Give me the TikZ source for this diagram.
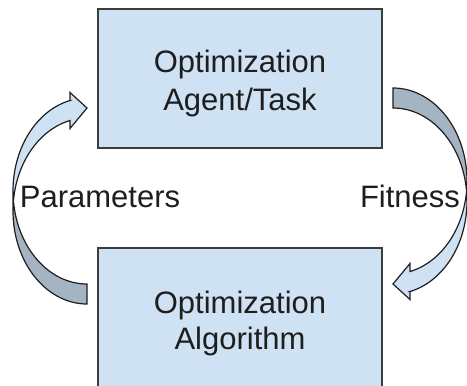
\documentclass[tikz,border=0pt]{standalone}
\usepackage{fontspec}
\setmainfont{Liberation Sans}
\definecolor{boxfill}{HTML}{CFE2F3}
\definecolor{boxline}{HTML}{3C3C3C}
\definecolor{arrowlight}{HTML}{CFE2F3}
\definecolor{arrowdark}{HTML}{A5B4C3}
\definecolor{arrowedge}{HTML}{1E1E1E}
\definecolor{textcol}{HTML}{1E1E1E}

% Curved block arrow in its own frame (x right, y down):
% outer ellipse E1 centred (74,93), inner ellipse E2 centred (74,113),
% both with radii 74 x 93; tail at the top right, head at the lower right.
\newcommand\curvedblockarrow{%
  % whole shape, light face
  \fill[arrowlight] (0,93)
    -- plot[domain=180:103.28,samples=60,variable=\t]({74+74*cos(\t)},{93+93*sin(\t)})
    -- (57,175.51) -- (74,196) -- (57,211.51) -- (57,203.51)
    -- plot[domain=103.28:180,samples=60,variable=\t]({74+74*cos(\t)},{113+93*sin(\t)})
    -- (0,93)
    -- plot[domain=180:270,samples=60,variable=\t]({74+74*cos(\t)},{93+93*sin(\t)})
    -- (74,20)
    -- plot[domain=270:186.17,samples=60,variable=\t]({74+74*cos(\t)},{113+93*sin(\t)})
    -- cycle;
  % back face near the tail
  \fill[arrowdark] (0,93)
    -- plot[domain=180:270,samples=60,variable=\t]({74+74*cos(\t)},{93+93*sin(\t)})
    -- (74,20)
    -- plot[domain=270:186.17,samples=60,variable=\t]({74+74*cos(\t)},{113+93*sin(\t)})
    -- cycle;
  % outline
  \draw[arrowline] (0,93)
    -- plot[domain=180:103.28,samples=60,variable=\t]({74+74*cos(\t)},{93+93*sin(\t)})
    -- (57,175.51) -- (74,196) -- (57,211.51) -- (57,203.51)
    -- plot[domain=103.28:180,samples=60,variable=\t]({74+74*cos(\t)},{113+93*sin(\t)})
    -- (0,93)
    -- plot[domain=180:270,samples=60,variable=\t]({74+74*cos(\t)},{93+93*sin(\t)})
    -- (74,20)
    -- plot[domain=270:186.17,samples=60,variable=\t]({74+74*cos(\t)},{113+93*sin(\t)});
}

\begin{document}
\begin{tikzpicture}[x=1pt,y=-1pt,
  box/.style={draw=boxline, line width=1.4pt, fill=boxfill,
    minimum width=284pt, inner sep=0pt},
  txt/.style={font=\fontsize{31}{37}\selectfont, text=textcol,
    anchor=base, inner sep=0pt},
  arrowline/.style={draw=arrowedge, line width=1.2pt, line join=miter},
]
\useasboundingbox (0,0) rectangle (467,386);
\clip (0,0) rectangle (467,386);

% the two blocks
\node[box, minimum height=139pt] (agent) at (240,78.5) {};
\node[box, minimum height=160pt] (algo) at (240,328) {};

\node[txt] (agentA) at (240,72.7) {Optimization};
\node[txt] (agentB) at (240,110) {Agent/Task};
\node[txt] (algoA) at (240,313.3) {Optimization};
\node[txt] (algoB) at (240,349.3) {Algorithm};

% feedback arrows
\begin{scope}[shift={(13,304)}, yscale=-1]
  \curvedblockarrow
\end{scope}
\begin{scope}[shift={(467,88)}, xscale=-1]
  \curvedblockarrow
\end{scope}

\node[txt] (params) at (100,207) {Parameters};
\node[txt] (fitness) at (410,207) {Fitness};
\end{tikzpicture}
\end{document}
